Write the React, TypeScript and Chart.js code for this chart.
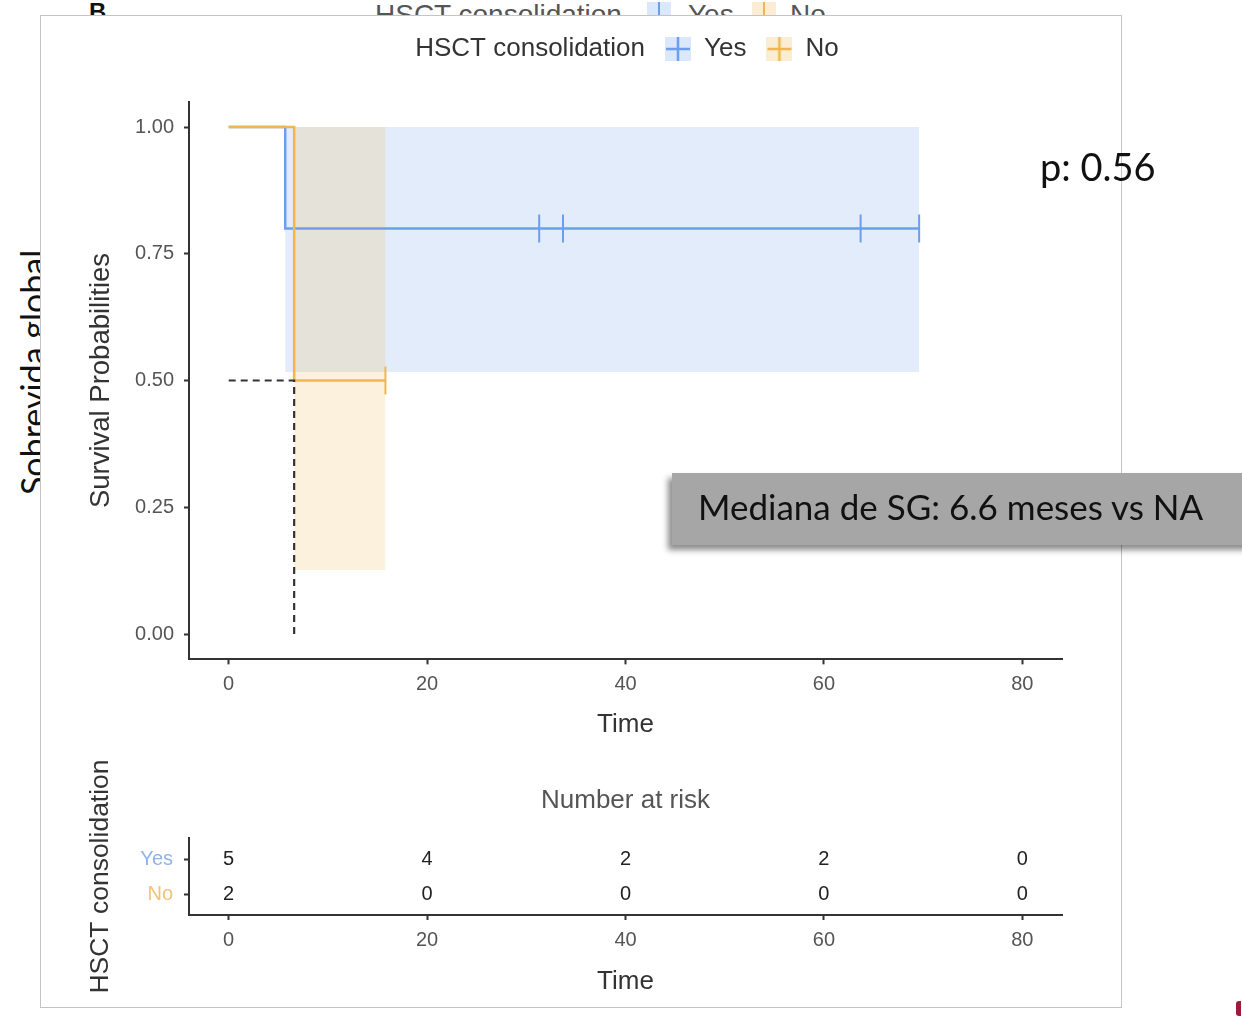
import React, { useEffect, useRef } from 'react';
import { Chart, registerables } from 'chart.js';

Chart.register(...registerables);

// ---------- data ----------
const xTicks = [0, 20, 40, 60, 80];
const yTicks = [0, 0.25, 0.5, 0.75, 1];
const groups = ['Yes', 'No'];

const yesTime = [0, 5.7, 69.6];
const yesSurv = [1, 0.8, 0.8];
const yesLower = [1, 0.517, 0.517];
const yesUpper = [1, 1, 1];
const yesCensor = [31.3, 33.7, 63.7, 69.6];

const noTime = [0, 6.6, 15.8];
const noSurv = [1, 0.5, 0.5];
const noLower = [1, 0.126, 0.126];
const noUpper = [1, 1, 1];
const noCensor = [15.8];

const medianTime = 6.6;
const medianSurv = 0.5;

const riskTimes = [0, 20, 40, 60, 80];
const riskYes = [5, 4, 2, 2, 0];
const riskNo = [2, 0, 0, 0, 0];

const legendTitle = 'HSCT consolidation';
const pValueText = 'p: 0.56';
const medianNote = 'Mediana de SG: 6.6 meses vs NA';
const outerTitle = 'Sobrevida global';

// ---------- style ----------
const FONT = '"Liberation Sans", Arial, sans-serif';
const yesColor = '#6d9eeb';
const noColor = '#f0b84c';
const yesFill = 'rgba(110,160,235,0.2)';
const noFill = 'rgba(240,185,80,0.2)';
const axisColor = '#333333';
const tickLabelColor = '#555555';
const titleColor = '#333333';

function stepPts(t: number[], v: number[]) {
  const pts: { x: number; y: number }[] = [];
  for (let i = 0; i < t.length; i++) {
    if (i > 0) pts.push({ x: t[i], y: v[i - 1] });
    pts.push({ x: t[i], y: v[i] });
  }
  return pts;
}

function survAt(t: number[], v: number[], at: number) {
  let s = v[0];
  for (let i = 0; i < t.length; i++) if (t[i] <= at) s = v[i];
  return s;
}

function makeIcon(line: string | null, fill: string | null) {
  const c = document.createElement('canvas');
  c.width = line ? 26 : 1;
  c.height = line ? 24 : 1;
  const g = c.getContext('2d')!;
  if (fill) {
    g.fillStyle = fill;
    g.fillRect(0, 0, c.width, c.height);
  }
  if (line) {
    g.strokeStyle = line;
    g.lineWidth = 2.5;
    g.beginPath();
    g.moveTo(13, 0);
    g.lineTo(13, 24);
    g.moveTo(1, 12);
    g.lineTo(25, 12);
    g.stroke();
  }
  return c;
}

const axisCommon = (fixed: (s: any) => void) => ({
  afterFit: fixed,
  grid: {
    display: true,
    drawOnChartArea: false,
    drawTicks: true,
    tickLength: 5,
    tickColor: axisColor,
    tickWidth: 2,
  },
  border: { display: true, color: axisColor, width: 2 },
});

export default function App() {
  const mainRef = useRef<HTMLCanvasElement>(null);
  const riskRef = useRef<HTMLCanvasElement>(null);

  useEffect(() => {
    Chart.defaults.font.family = FONT;
    const blank = makeIcon(null, null);
    const yesIcon = makeIcon(yesColor, 'rgba(110,160,235,0.25)');
    const noIcon = makeIcon(noColor, 'rgba(240,185,80,0.25)');

    const lineBase = {
      pointRadius: 0,
      pointHoverRadius: 0,
      tension: 0,
      fill: false,
      borderWidth: 2.5,
    };

    const main = new Chart(mainRef.current!, {
      type: 'line',
      data: {
        datasets: [
          { ...lineBase, label: 'yesUpper', data: stepPts(yesTime, yesUpper), borderColor: 'rgba(0,0,0,0)', order: 21 },
          { ...lineBase, label: 'yesLower', data: stepPts(yesTime, yesLower), borderColor: 'rgba(0,0,0,0)', fill: '-1', backgroundColor: yesFill, order: 20 },
          { ...lineBase, label: 'noUpper', data: stepPts(noTime, noUpper), borderColor: 'rgba(0,0,0,0)', order: 19 },
          { ...lineBase, label: 'noLower', data: stepPts(noTime, noLower), borderColor: 'rgba(0,0,0,0)', fill: '-1', backgroundColor: noFill, order: 18 },
          { ...lineBase, label: 'Yes', data: stepPts(yesTime, yesSurv), borderColor: yesColor, order: 10 },
          { ...lineBase, label: 'No', data: stepPts(noTime, noSurv), borderColor: noColor, order: 9 },
          {
            ...lineBase,
            label: 'median',
            data: [
              { x: xTicks[0], y: medianSurv },
              { x: medianTime, y: medianSurv },
              { x: medianTime, y: yTicks[0] },
            ],
            borderColor: axisColor,
            borderWidth: 2.2,
            borderDash: [7, 5],
            order: 8,
          },
          {
            label: 'yesCensor',
            data: yesCensor.map((t) => ({ x: t, y: survAt(yesTime, yesSurv, t) })),
            showLine: false,
            pointStyle: 'line',
            pointRotation: 90,
            pointRadius: 14,
            pointHoverRadius: 14,
            pointBorderWidth: 2,
            pointBorderColor: yesColor,
            borderColor: yesColor,
            order: 7,
          },
          {
            label: 'noCensor',
            data: noCensor.map((t) => ({ x: t, y: survAt(noTime, noSurv, t) })),
            showLine: false,
            pointStyle: 'line',
            pointRotation: 90,
            pointRadius: 14,
            pointHoverRadius: 14,
            pointBorderWidth: 2,
            pointBorderColor: noColor,
            borderColor: noColor,
            order: 6,
          },
        ],
      } as any,
      options: {
        responsive: false,
        maintainAspectRatio: false,
        animation: false,
        events: [],
        layout: { padding: { left: 0, right: 60, top: 0, bottom: 0 } },
        plugins: {
          tooltip: { enabled: false },
          legend: {
            display: true,
            position: 'top',
            fullSize: false,
            weight: 3000,
            labels: {
              usePointStyle: true,
              boxWidth: 26,
              boxHeight: 26,
              padding: 20,
              color: titleColor,
              font: { family: FONT, size: 26 },
              generateLabels: () => [
                { text: legendTitle, pointStyle: blank, fillStyle: 'rgba(0,0,0,0)', strokeStyle: 'rgba(0,0,0,0)', lineWidth: 0, hidden: false, fontColor: titleColor },
                { text: groups[0], pointStyle: yesIcon, fillStyle: yesColor, strokeStyle: yesColor, lineWidth: 0, hidden: false, fontColor: titleColor },
                { text: groups[1] + '     ', pointStyle: noIcon, fillStyle: noColor, strokeStyle: noColor, lineWidth: 0, hidden: false, fontColor: titleColor },
              ],
            },
          } as any,
          title: {
            display: true,
            text: '',
            fullSize: false,
            font: { size: 1 },
            padding: { top: 28.45, bottom: 0 },
          } as any,
        },
        scales: {
          x: {
            type: 'linear',
            min: -4,
            max: 84,
            ...axisCommon((s: any) => { s.height = 90.65; }),
            afterBuildTicks: (s: any) => { s.ticks = xTicks.map((v) => ({ value: v })); },
            ticks: { color: tickLabelColor, font: { family: FONT, size: 20 }, padding: 8, autoSkip: false, maxRotation: 0, callback: (v: any) => String(v) },
            title: { display: true, text: 'Time', color: titleColor, font: { family: FONT, size: 26 }, padding: { top: 0, bottom: 9.4 } },
          },
          y: {
            type: 'linear',
            min: -0.05,
            max: 1.05,
            ...axisCommon((s: any) => { s.width = 149; }),
            afterBuildTicks: (s: any) => { s.ticks = yTicks.map((v) => ({ value: v })); },
            ticks: { color: tickLabelColor, font: { family: FONT, size: 20 }, padding: 10, autoSkip: false, callback: (v: any) => Number(v).toFixed(2) },
            title: { display: true, text: 'Survival Probabilities', color: titleColor, font: { family: FONT, size: 27.5 }, padding: { top: 44.5, bottom: 0 } },
          },
        },
      } as any,
    });

    const riskCounts = [riskYes, riskNo];
    const riskText = {
      id: 'riskText',
      afterDatasetsDraw(chart: any) {
        const ctx = chart.ctx;
        ctx.save();
        ctx.font = `20px ${FONT}`;
        ctx.fillStyle = '#222';
        ctx.textAlign = 'center';
        ctx.textBaseline = 'middle';
        chart.data.datasets.forEach((ds: any, di: number) => {
          const meta = chart.getDatasetMeta(di);
          meta.data.forEach((pt: any, i: number) => {
            ctx.fillText(String(ds.data[i].n), pt.x, pt.y);
          });
        });
        ctx.restore();
      },
    };

    const risk = new Chart(riskRef.current!, {
      type: 'scatter',
      data: {
        datasets: groups.map((g, gi) => ({
          label: g,
          data: riskTimes.map((t, i) => ({ x: t, y: gi + 1, n: riskCounts[gi][i] })),
          pointRadius: 0,
          pointHoverRadius: 0,
          showLine: false,
        })),
      } as any,
      options: {
        responsive: false,
        maintainAspectRatio: false,
        animation: false,
        events: [],
        layout: { padding: { left: 0, right: 60, top: 0, bottom: 0 } },
        plugins: {
          tooltip: { enabled: false },
          legend: { display: false },
          title: {
            display: true,
            text: 'Number at risk',
            fullSize: false,
            color: tickLabelColor,
            font: { family: FONT, size: 26, weight: 'normal' },
            padding: { top: 25.4, bottom: 21.4 },
          } as any,
        },
        scales: {
          x: {
            type: 'linear',
            min: -4,
            max: 84,
            ...axisCommon((s: any) => { s.height = 95; }),
            afterBuildTicks: (s: any) => { s.ticks = xTicks.map((v) => ({ value: v })); },
            ticks: { color: tickLabelColor, font: { family: FONT, size: 20 }, padding: 8, autoSkip: false, maxRotation: 0, callback: (v: any) => String(v) },
            title: { display: true, text: 'Time', color: titleColor, font: { family: FONT, size: 26 }, padding: { top: 0, bottom: 12.4 } },
          },
          y: {
            type: 'linear',
            min: 0.4,
            max: 2.6,
            reverse: true,
            ...axisCommon((s: any) => { s.width = 149; }),
            afterBuildTicks: (s: any) => { s.ticks = groups.map((_, i) => ({ value: i + 1 })); },
            ticks: {
              font: { family: FONT, size: 20 },
              padding: 11,
              autoSkip: false,
              color: (c: any) => (c.tick && c.tick.value === 1 ? '#8fb2ec' : '#f0c27a'),
              callback: (v: any) => groups[Number(v) - 1] ?? '',
            },
            title: { display: true, text: 'HSCT consolidation', color: titleColor, font: { family: FONT, size: 26.5 }, padding: { top: 45.1, bottom: 0 } },
          },
        },
      } as any,
      plugins: [riskText],
    });

    return () => {
      main.destroy();
      risk.destroy();
    };
  }, []);

  const abs = (s: React.CSSProperties): React.CSSProperties => ({ position: 'absolute', ...s });

  return (
    <div style={abs({ left: 0, top: 0, width: 1242, height: 1016, overflow: 'hidden', background: '#fff', fontFamily: FONT })}>
      {/* residue of the slide behind the figure */}
      <div style={abs({ left: 89, top: 0, fontSize: 24, lineHeight: '24px', fontWeight: 'bold', color: '#111' })}>B</div>
      <div style={abs({ left: 375, top: 1, fontSize: 28, lineHeight: '28px', color: '#555', whiteSpace: 'nowrap' })}>{legendTitle}</div>
      <div style={abs({ left: 647, top: 2, width: 24, height: 24, background: 'rgba(110,160,235,0.25)' })}>
        <div style={abs({ left: 11, top: 0, width: 2, height: 24, background: yesColor })} />
      </div>
      <div style={abs({ left: 688, top: 1, fontSize: 28, lineHeight: '28px', color: '#555' })}>{groups[0]}</div>
      <div style={abs({ left: 752, top: 2, width: 24, height: 24, background: 'rgba(240,185,80,0.25)' })}>
        <div style={abs({ left: 11, top: 0, width: 2, height: 24, background: noColor })} />
      </div>
      <div style={abs({ left: 790, top: 1, fontSize: 28, lineHeight: '28px', color: '#555' })}>{groups[1]}</div>
      <div
        style={abs({
          left: 16,
          top: 495,
          fontFamily: 'Lato, sans-serif',
          fontSize: 34,
          lineHeight: '34px',
          color: '#111',
          whiteSpace: 'nowrap',
          transform: 'rotate(-90deg)',
          transformOrigin: '0 0',
        })}
      >
        {outerTitle}
      </div>

      {/* figure panel */}
      <div style={abs({ left: 40, top: 15, width: 1082, height: 993, boxSizing: 'border-box', border: '1px solid #c4c4c4', background: '#fff' })} />
      <canvas ref={mainRef} width={1082} height={734} style={abs({ left: 40, top: 16, width: 1082, height: 734 })} />
      <canvas ref={riskRef} width={1082} height={250} style={abs({ left: 40, top: 760, width: 1082, height: 250 })} />

      {/* slide annotations */}
      <div style={abs({ left: 1040, top: 147, fontFamily: 'Lato, sans-serif', fontSize: 38, lineHeight: '38px', color: '#111', whiteSpace: 'nowrap' })}>
        {pValueText}
      </div>
      <div
        style={abs({
          left: 672,
          top: 473,
          width: 600,
          height: 72,
          background: '#a6a6a6',
          boxShadow: '-4px 5px 6px rgba(0,0,0,0.45)',
        })}
      >
        <div style={abs({ left: 26, top: 0, fontFamily: 'Lato, sans-serif', fontSize: 35, lineHeight: '67px', color: '#111', whiteSpace: 'nowrap' })}>
          {medianNote}
        </div>
      </div>
      <div style={abs({ left: 1236, top: 1001, width: 5, height: 15, background: '#9b1b3a', borderRadius: '3px 0 0 3px' })} />
    </div>
  );
}
